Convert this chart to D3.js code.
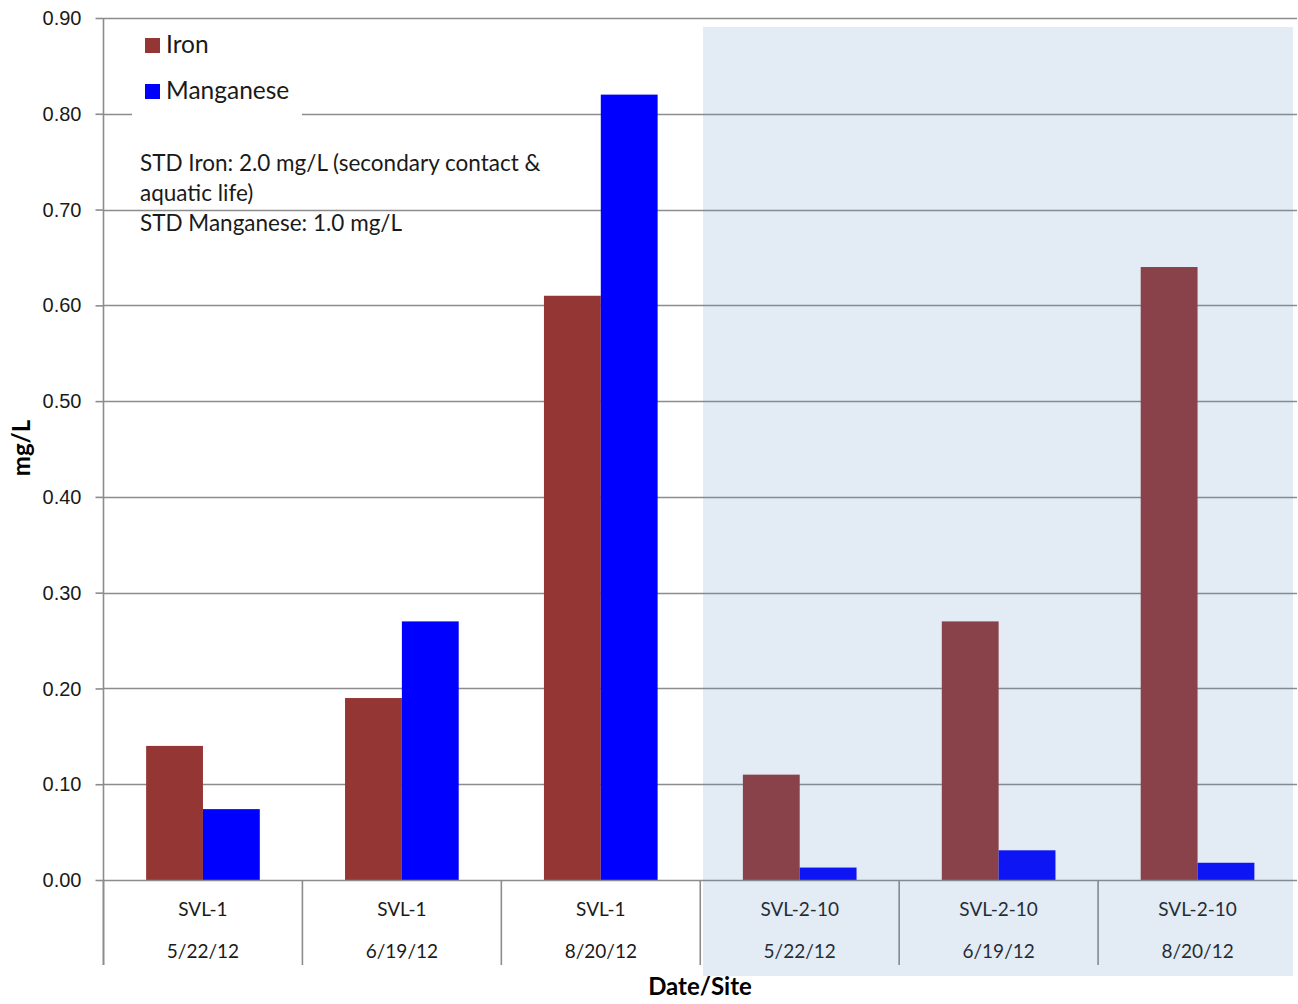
<!DOCTYPE html>
<html>
<head>
<meta charset="utf-8">
<script src="https://cdn.jsdelivr.net/npm/d3@7"></script>
<style>
  html, body { margin: 0; padding: 0; background: #fff; }
  svg { display: block; font-family: Lato, "Open Sans", sans-serif; }
</style>
</head>
<body>
<svg id="chart" width="1298" height="1004"></svg>
<script>
// Sampling sites and dates (two-line category labels)
const sites = ["SVL-1", "SVL-1", "SVL-1", "SVL-2-10", "SVL-2-10", "SVL-2-10"];
const dates = ["5/22/12", "6/19/12", "8/20/12", "5/22/12", "6/19/12", "8/20/12"];
const seriesNames = ["Iron", "Manganese"];
const iron = [0.14, 0.19, 0.61, 0.11, 0.27, 0.64];
const manganese = [0.074, 0.27, 0.82, 0.013, 0.031, 0.018];
const yTicks = [0, 0.1, 0.2, 0.3, 0.4, 0.5, 0.6, 0.7, 0.8, 0.9];
const noteLines = [
  "STD Iron: 2.0 mg/L (secondary contact &",
  "aquatic life)",
  "STD Manganese: 1.0 mg/L"
];

const colors = { Iron: "#943634", Manganese: "#0000ff" };
const gridColor = "#8c8c8c";
const textColor = "#1a1a1a";

const svg = d3.select("#chart");
const plot = { left: 103.5, right: 1297, top: 18, bottom: 880 };

const keys = sites.map((s, i) => i);
const x0 = d3.scaleBand().domain(keys).range([plot.left, plot.right]).paddingInner(0).paddingOuter(0);
const x1 = d3.scaleBand().domain(seriesNames).range([0, x0.bandwidth()]).paddingInner(0).paddingOuter(0.75);
const y = d3.scaleLinear().domain([0, 0.9]).range([plot.bottom, plot.top]);

const rows = keys.map(i => ({ i, Iron: iron[i], Manganese: manganese[i] }));

// Horizontal gridlines
svg.append("g").selectAll("line").data(yTicks.filter(t => t > 0)).join("line")
  .attr("x1", plot.left).attr("x2", plot.right)
  .attr("y1", d => Math.round(y(d)) + 0.5).attr("y2", d => Math.round(y(d)) + 0.5)
  .attr("stroke", gridColor).attr("stroke-width", 1.6);

// Bars
svg.append("g").selectAll("g").data(rows).join("g")
  .attr("transform", d => `translate(${x0(d.i)},0)`)
  .selectAll("rect").data(d => seriesNames.map(k => ({ k, v: d[k] }))).join("rect")
  .attr("x", d => x1(d.k)).attr("width", x1.bandwidth())
  .attr("y", d => y(d.v)).attr("height", d => y(0) - y(d.v))
  .attr("fill", d => colors[d.k]);

// Y axis
const yAxis = d3.axisLeft(y).tickValues(yTicks).tickFormat(d3.format(".2f")).tickSize(8).tickPadding(14);
const gy = svg.append("g").attr("transform", `translate(${plot.left},0)`).call(yAxis);
gy.select(".domain").remove();
gy.selectAll(".tick line").attr("stroke", gridColor).attr("stroke-width", 1.6);
gy.selectAll(".tick text").attr("fill", textColor).style("font-size", "20px").attr("dy", "0.33em");
svg.append("line").attr("x1", plot.left).attr("x2", plot.left).attr("y1", plot.top).attr("y2", 965)
  .attr("stroke", gridColor).attr("stroke-width", 1.6);

// X axis baseline and category separators
svg.append("line").attr("x1", plot.left).attr("x2", plot.right)
  .attr("y1", plot.bottom + 0.5).attr("y2", plot.bottom + 0.5)
  .attr("stroke", gridColor).attr("stroke-width", 1.6);
svg.append("g").selectAll("line").data(keys).join("line")
  .attr("x1", d => x0(d)).attr("x2", d => x0(d))
  .attr("y1", plot.bottom).attr("y2", 965)
  .attr("stroke", gridColor).attr("stroke-width", 1.6);

const catLabels = svg.append("g").attr("fill", textColor).style("font-size", "19px").attr("text-anchor", "middle");
catLabels.selectAll("text.site").data(keys).join("text").attr("class", "site")
  .attr("x", d => x0(d) + x0.bandwidth() / 2).attr("y", 916).text(d => sites[d]);
catLabels.selectAll("text.date").data(keys).join("text").attr("class", "date")
  .attr("x", d => x0(d) + x0.bandwidth() / 2).attr("y", 958).text(d => dates[d]);

// Axis titles
svg.append("text").attr("transform", "translate(30,448) rotate(-90)")
  .attr("text-anchor", "middle").attr("fill", "#000")
  .style("font-size", "24px").style("font-weight", "bold").text("mg/L");
svg.append("text").attr("x", 700).attr("y", 995).attr("text-anchor", "middle").attr("fill", "#000")
  .style("font-size", "24px").style("font-weight", "bold").text("Date/Site");

// Legend
const legend = svg.append("g");
legend.append("rect").attr("x", 132).attr("y", 22).attr("width", 170).attr("height", 96).attr("fill", "#fff");
seriesNames.forEach((name, i) => {
  const gy0 = 45 + i * 46;
  legend.append("rect").attr("x", 145).attr("y", gy0 - 7).attr("width", 15).attr("height", 15).attr("fill", colors[name]);
  legend.append("text").attr("x", 166).attr("y", gy0 + 8).attr("fill", textColor)
    .style("font-size", "24.5px").text(name);
});

// Standards note
svg.append("g").attr("fill", textColor).style("font-size", "22.5px")
  .selectAll("text").data(noteLines).join("text")
  .attr("x", 140).attr("y", (d, i) => 171 + i * 30).text(d => d);

// Translucent highlight over the SVL-2-10 site
svg.append("rect").attr("x", 703).attr("y", 27).attr("width", 590).attr("height", 949)
  .attr("fill", "rgb(79,129,189)").attr("fill-opacity", 0.16);
</script>
</body>
</html>
